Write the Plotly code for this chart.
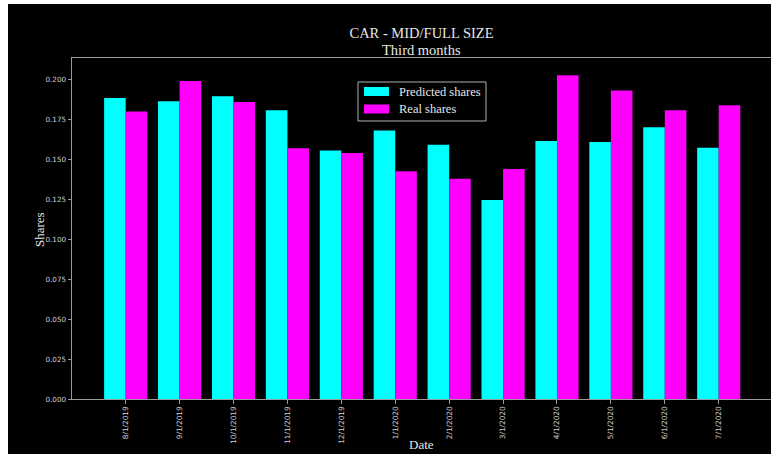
import plotly.graph_objects as go

# Monthly dates (categories)
dates = ["8/1/2019", "9/1/2019", "10/1/2019", "11/1/2019", "12/1/2019", "1/1/2020",
         "2/1/2020", "3/1/2020", "4/1/2020", "5/1/2020", "6/1/2020", "7/1/2020"]

predicted_shares = [0.1883, 0.1862, 0.1894, 0.1806, 0.1554, 0.1679,
                    0.1591, 0.1244, 0.1614, 0.1608, 0.1700, 0.1571]
real_shares = [0.1798, 0.1989, 0.1858, 0.1569, 0.1539, 0.1425,
               0.1377, 0.1439, 0.2025, 0.1929, 0.1806, 0.1838]

series_names = ["Predicted shares", "Real shares"]
series_colors = ["#00FFFF", "#FF00FF"]

y_ticks = [0.0, 0.025, 0.05, 0.075, 0.1, 0.125, 0.15, 0.175, 0.2]

title_text = "CAR - MID/FULL SIZE"
subtitle_text = "Third months"

W, H = 771, 454
L, R, T, B = 72, 0, 58, 55
PW, PH = W - L - R, H - T - B


def px_x(x):
    return (x - L) / PW


def px_y(y):
    return (H - B - y) / PH


serif = "Liberation Serif, Times New Roman, serif"
sans = "DejaVu Sans, sans-serif"
text_col = "#e6e6e6"
axis_col = "#9a9a9a"

fig = go.Figure()
for name, vals, col in zip(series_names, [predicted_shares, real_shares], series_colors):
    fig.add_trace(go.Bar(x=dates, y=vals, name=name, marker=dict(color=col, line=dict(width=0)),
                         showlegend=False))

fig.update_layout(
    width=W, height=H,
    margin=dict(l=L, r=R, t=T, b=B),
    paper_bgcolor="white",
    plot_bgcolor="black",
    barmode="group", bargap=0.2, bargroupgap=0,
    title=dict(text=title_text, x=0.5, xref="paper", xanchor="center",
               y=1 - 33 / H, yref="container", yanchor="middle",
               font=dict(family=serif, size=14.5, color=text_col)),
    xaxis=dict(type="category", range=[-0.996, 11.97], showline=True, mirror=True,
               linecolor=axis_col, linewidth=1, ticks="outside", ticklen=3.5,
               tickcolor=axis_col, tickangle=-90, showgrid=False, zeroline=False,
               tickfont=dict(family=sans, size=7.3, color="#d0d0d0")),
    yaxis=dict(range=[0, 0.2133], tickvals=y_ticks, tickformat=".3f", showline=True,
               mirror=False, linecolor=axis_col, linewidth=1, ticks="outside", ticklen=3.5,
               tickcolor=axis_col, showgrid=False, zeroline=False,
               tickfont=dict(family=sans, size=7.2, color="#d0d0d0")),
)

# Black figure background leaving a thin light border on the left and top edges
fig.add_shape(type="rect", xref="paper", yref="paper", layer="below",
              x0=px_x(8), x1=px_x(W + 10), y0=px_y(H + 10), y1=px_y(4),
              fillcolor="black", line=dict(width=0))

# Second title line
fig.add_annotation(text=subtitle_text, xref="paper", yref="paper", x=0.5, y=px_y(49.5),
                   xanchor="center", yanchor="middle", showarrow=False, borderpad=0,
                   font=dict(family=serif, size=14.5, color=text_col))

# Axis titles
fig.add_annotation(text="Date", xref="paper", yref="paper", x=0.5, y=px_y(453),
                   xanchor="center", yanchor="bottom", showarrow=False, borderpad=0,
                   font=dict(family=serif, size=13, color=text_col))
fig.add_annotation(text="Shares", xref="paper", yref="paper", x=px_x(39), y=px_y(230),
                   xanchor="center", yanchor="middle", textangle=-90, showarrow=False,
                   font=dict(family=serif, size=13, color=text_col))

# Legend box
fig.add_shape(type="rect", xref="paper", yref="paper",
              x0=px_x(358), x1=px_x(486), y0=px_y(121), y1=px_y(82),
              fillcolor="black", line=dict(color="#b0b0b0", width=1))
for i, (name, col) in enumerate(zip(series_names, series_colors)):
    yc = 91.5 + i * 17.5
    fig.add_shape(type="rect", xref="paper", yref="paper",
                  x0=px_x(364), x1=px_x(389), y0=px_y(yc + 4.5), y1=px_y(yc - 4.5),
                  fillcolor=col, line=dict(width=0))
    fig.add_annotation(text=name, xref="paper", yref="paper", x=px_x(397), y=px_y(yc),
                       xanchor="left", yanchor="middle", showarrow=False,
                       font=dict(family=serif, size=12.5, color=text_col))

fig.write_html("out.html")
